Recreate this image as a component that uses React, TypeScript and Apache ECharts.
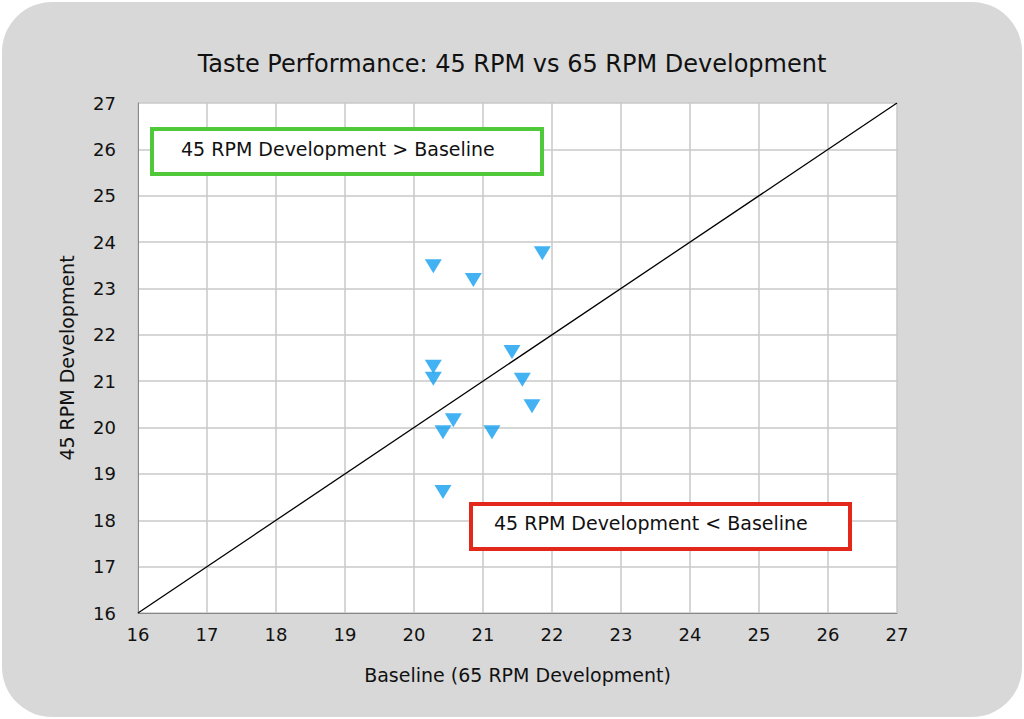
import React, { useEffect, useRef } from "react";
import * as echarts from "echarts";

const baseline = [20.28, 20.86, 21.86, 20.28, 20.28, 21.42, 21.57, 21.71, 20.57, 20.42, 21.13, 20.42];
const rpm45 = [23.48, 23.18, 23.76, 21.31, 21.05, 21.63, 21.03, 20.46, 20.16, 19.9, 19.9, 18.61];
const diagonal = [[16, 16], [27, 27]];

export default function App() {
  const ref = useRef<HTMLDivElement>(null);
  useEffect(() => {
    document.body.style.margin = "0";
    const chart = echarts.init(ref.current!, null, { renderer: "svg" });
    const font = "'DejaVu Sans', sans-serif";
    chart.setOption({
      animation: false,
      backgroundColor: "transparent",
      textStyle: { fontFamily: font },
      title: {
        text: "Taste Performance: 45 RPM vs 65 RPM Development",
        left: "center", top: 47,
        textStyle: { fontSize: 24, fontWeight: "normal", color: "#111", fontFamily: font },
      },
      grid: { left: 138, right: 127, top: 103, bottom: 106 },
      xAxis: {
        type: "value", min: 16, max: 27, interval: 1,
        name: "Baseline (65 RPM Development)", nameLocation: "middle", nameGap: 52,
        nameTextStyle: { fontSize: 19, color: "#111", fontFamily: font },
        axisLine: { show: true, lineStyle: { color: "#888" } },
        axisTick: { show: false },
        axisLabel: { fontSize: 18, color: "#111", margin: 12, fontFamily: font },
        splitLine: { lineStyle: { color: "#c8c8c8", width: 1.5 } },
      },
      yAxis: {
        type: "value", min: 16, max: 27, interval: 1,
        name: "45 RPM Development", nameLocation: "middle", nameGap: 62,
        nameTextStyle: { fontSize: 19, color: "#111", fontFamily: font },
        axisLine: { show: true, lineStyle: { color: "#888" } },
        axisTick: { show: false },
        axisLabel: { fontSize: 18, color: "#111", margin: 22, fontFamily: font },
        splitLine: { lineStyle: { color: "#c8c8c8", width: 1.5 } },
      },
      series: [
        {
          type: "line", data: diagonal, symbol: "none",
          lineStyle: { color: "#000", width: 1.3 }, z: 3,
        },
        {
          type: "scatter",
          data: baseline.map((b, i) => [b, rpm45[i]]),
          symbol: "triangle", symbolRotate: 180, symbolSize: [17, 14],
          itemStyle: { color: "#139ff0" }, z: 4,
        },
      ],
      graphic: [
        { type: "rect", left: 150, top: 127, shape: { width: 390, height: 45 }, style: { fill: "#fff", stroke: "#4fc93a", lineWidth: 4 }, z: 10 },
        { type: "text", left: 181, top: 139, style: { text: "45 RPM Development > Baseline", fontSize: 19, fill: "#111", fontFamily: font }, z: 11 },
        { type: "rect", left: 469, top: 502, shape: { width: 379, height: 45 }, style: { fill: "#fff", stroke: "#e3271b", lineWidth: 4 }, z: 10 },
        { type: "text", left: 494, top: 513, style: { text: "45 RPM Development < Baseline", fontSize: 19, fill: "#111", fontFamily: font }, z: 11 },
      ],
    });
    return () => chart.dispose();
  }, []);
  return (
    <div style={{ width: 1024, height: 719, background: "#fff", position: "relative" }}>
      <div style={{ position: "absolute", left: 2, top: 2, width: 1020, height: 715, background: "#d8d8d8", borderRadius: 50 }} />
      <div style={{ position: "absolute", left: 138, top: 103, width: 759, height: 510, background: "#fff" }} />
      <div ref={ref} style={{ position: "absolute", left: 0, top: 0, width: 1024, height: 719 }} />
    </div>
  );
}
